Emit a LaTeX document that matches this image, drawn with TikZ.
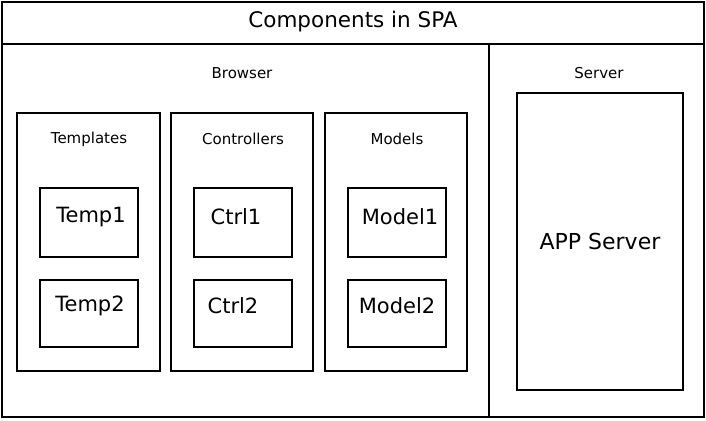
\documentclass[tikz,border=0pt]{standalone}
\usepackage{fontspec}
\setmainfont{DejaVu Sans}

\begin{document}
\begin{tikzpicture}[x=1pt,y=-1pt,line width=2pt]

\useasboundingbox (0,0) rectangle (706,420);

\draw (2,2) rectangle (704,417);
\draw (2,44)--(704,44);
\draw[line width=1.4pt] (489,44)--(489,417);

\node (title) at (353,22) {\fontsize{21.5}{26}\selectfont Components in SPA};

\node (browser) at (242,73) {\fontsize{15}{18}\selectfont Browser};
\node (server) at (599,73) {\fontsize{15}{18}\selectfont Server};

\draw[line width=2.4pt] (17,113) rectangle (160,371);
\draw[line width=2.4pt] (171,113) rectangle (313,371);
\draw[line width=2.4pt] (325,113) rectangle (467,371);

\node (templates) at (89,139) {\fontsize{15}{18}\selectfont Templates};
\node (controllers) at (243,139) {\fontsize{15}{18}\selectfont Controllers};
\node (models) at (397,139) {\fontsize{15}{18}\selectfont Models};

\draw[line width=2.4pt] (40,188) rectangle (138,257);
\draw[line width=2.4pt] (40,280) rectangle (138,347);
\draw[line width=2.4pt] (194,188) rectangle (292,257);
\draw[line width=2.4pt] (194,280) rectangle (292,347);
\draw[line width=2.4pt] (348,188) rectangle (446,257);
\draw[line width=2.4pt] (348,280) rectangle (446,347);

\node (temp1) at (91,217) {\fontsize{21}{25}\selectfont Temp1};
\node (temp2) at (90,306) {\fontsize{21}{25}\selectfont Temp2};
\node (ctrl1) at (236,217) {\fontsize{21}{25}\selectfont Ctrl1};
\node (ctrl2) at (233,306) {\fontsize{21}{25}\selectfont Ctrl2};
\node (model1) at (400,217) {\fontsize{21}{25}\selectfont Model1};
\node (model2) at (397,306) {\fontsize{21}{25}\selectfont Model2};

\draw[line width=2.4pt] (517,93) rectangle (683,390);
\node (app) at (600,241) {\fontsize{22}{26}\selectfont APP Server};

\end{tikzpicture}
\end{document}
